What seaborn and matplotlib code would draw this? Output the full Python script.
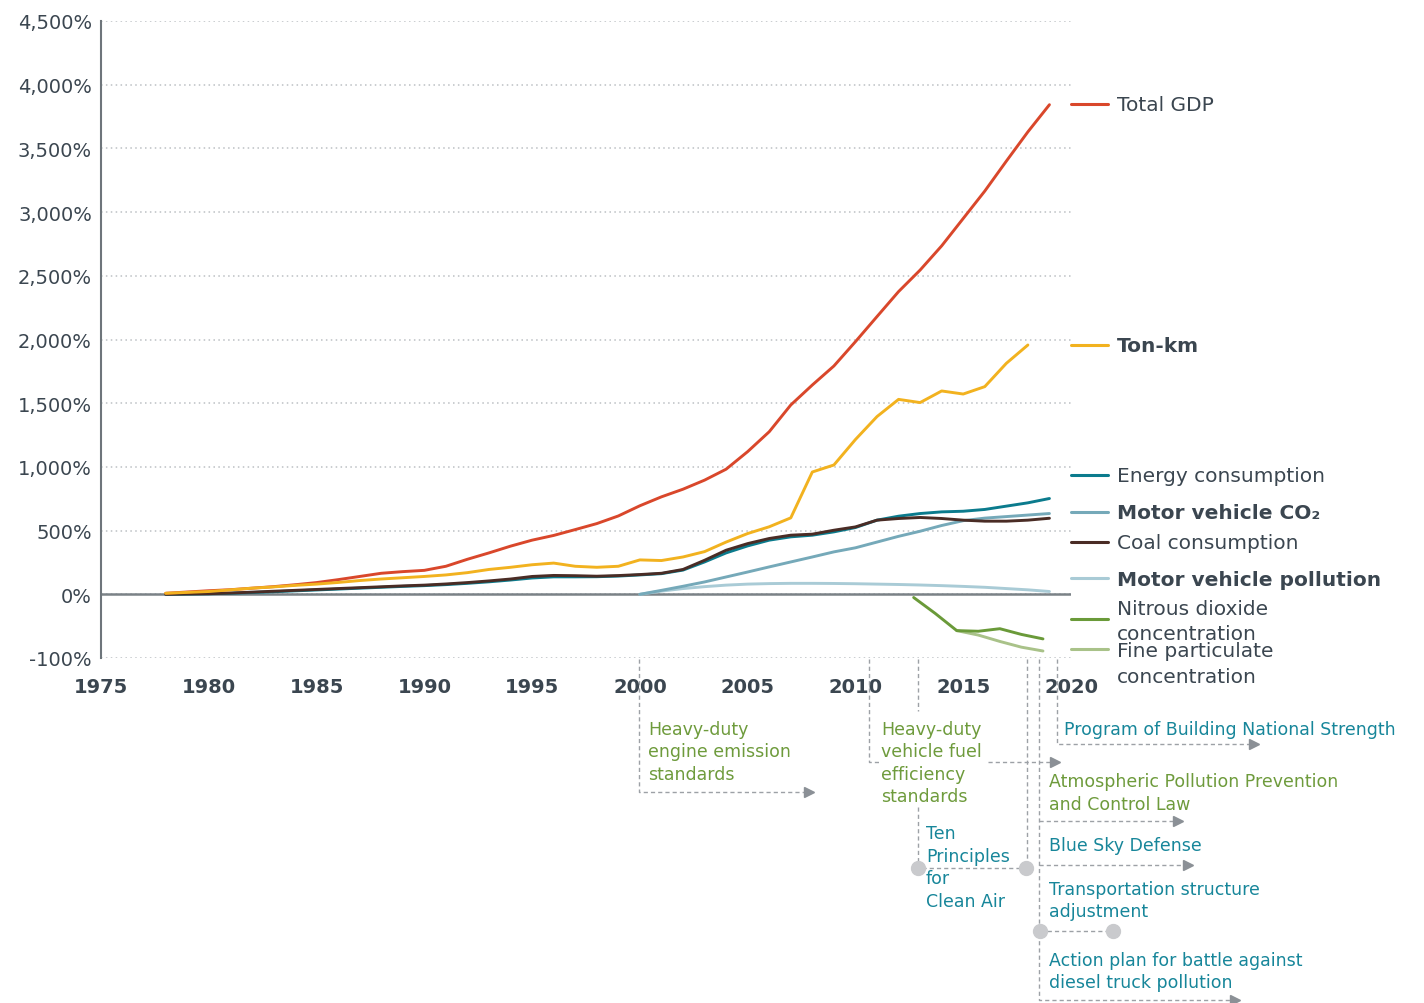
import numpy as np
import pandas as pd
import seaborn as sns
import matplotlib
matplotlib.use("Agg")
from matplotlib import pyplot as plt
from matplotlib.lines import Line2D

W, H = 1424, 1004

# growth since 1978, percent
years = list(range(1978, 2020))
gdp = [8, 18, 28, 36, 48, 60, 75, 92, 115, 140,
       165, 178, 188, 220, 275, 325, 378, 425, 462, 508,
       555, 615, 695, 765, 825, 896, 982, 1120, 1276, 1486,
       1643, 1792, 1983, 2180, 2376, 2545, 2735, 2950, 3165, 3400,
       3630, 3843]
energy = [0, 2, 4, 8, 14, 20, 27, 34, 41, 48,
          55, 62, 68, 76, 86, 98, 112, 128, 137, 137,
          138, 143, 152, 162, 190, 254, 325, 380, 425, 451,
          464, 490, 524, 582, 613, 634, 647, 652, 666, 692,
          718, 752]
coal = [0, 3, 5, 10, 17, 24, 31, 38, 45, 52,
        59, 66, 72, 81, 92, 105, 120, 140, 148, 146,
        142, 147, 155, 165, 195, 267, 346, 398, 438, 464,
        472, 503, 529, 582, 595, 603, 595, 582, 574, 574,
        582, 597]

ton_km_years = list(range(1978, 2019))
ton_km = [8, 15, 22, 35, 48, 58, 70, 80, 93, 108,
          120, 130, 140, 152, 170, 195, 212, 232, 245, 220,
          212, 220, 270, 265, 293, 335, 410, 477, 530, 600,
          960, 1015, 1215, 1395, 1530, 1505, 1596, 1572, 1630, 1813,
          1957]

mv_years = list(range(2000, 2020))
mv_co2 = [0, 31, 63, 97, 136, 175, 215, 254, 293, 333,
          365, 410, 455, 495, 540, 578, 598, 610, 622, 634]
mv_pollution = [0, 25, 45, 60, 72, 80, 84, 86, 86, 85,
                83, 80, 77, 73, 68, 62, 55, 45, 35, 22]

no2_years = [2012.7, 2013.7, 2014.7, 2015.7, 2016.7, 2017.7, 2018.7]
no2 = [-5, -30, -57, -58, -54, -63, -70]
pm_years = [2014.7, 2015.7, 2016.7, 2017.7, 2018.7]
pm = [-57, -64, -74, -83, -89]

palette = {
    "Motor vehicle pollution": "#a9cbd6",
    "Motor vehicle CO₂": "#75a9b9",
    "Energy consumption": "#0b7b8d",
    "Coal consumption": "#4a2c25",
    "Total GDP": "#d9472b",
    "Ton-km": "#f2b21f",
    "Fine particulate concentration": "#a9c289",
    "Nitrous dioxide concentration": "#6a9a39",
}
order = list(palette)

parts = [
    ("Total GDP", years, gdp),
    ("Ton-km", ton_km_years, ton_km),
    ("Energy consumption", years, energy),
    ("Coal consumption", years, coal),
    ("Motor vehicle CO₂", mv_years, mv_co2),
    ("Motor vehicle pollution", mv_years, mv_pollution),
    ("Nitrous dioxide concentration", no2_years, no2),
    ("Fine particulate concentration", pm_years, pm),
]
df = pd.concat([pd.DataFrame({"year": x, "value": y, "series": n}) for n, x, y in parts])

sns.set_style("white")
plt.rcParams["font.family"] = ["DejaVu Sans"]

TXT = "#3b4650"
GREEN = "#6e9b3c"
TEAL = "#17869a"
DASH = "#9da1a6"

fig = plt.figure(figsize=(W / 100, H / 100), dpi=100)
ax = fig.add_axes([101 / W, 1 - 659 / H, 970 / W, 637 / H])

sns.lineplot(data=df, x="year", y="value", hue="series", hue_order=order,
             palette=palette, estimator=None, linewidth=2.1, legend=False,
             ax=ax, zorder=3)


# negative part of the axis is stretched 5x
def fwd(v):
    v = np.asarray(v, dtype=float)
    return np.where(v < 0, v * 5, v)


def inv(v):
    v = np.asarray(v, dtype=float)
    return np.where(v < 0, v / 5, v)


ax.set_yscale("function", functions=(fwd, inv))
ax.set_xlim(1975, 2020)
ax.set_ylim(-100, 4500)

yticks = [-100] + list(range(0, 4501, 500))
ax.set_yticks(yticks)
ax.set_yticklabels([f"{t:,}%" for t in yticks])
xticks = list(range(1975, 2021, 5))
ax.set_xticks(xticks)
ax.set_xticklabels([str(t) for t in xticks], fontweight="bold")
ax.set_xlabel("")
ax.set_ylabel("")

ax.grid(False)
ax.grid(axis="y", color="#bcc0c4", linestyle=(0, (1, 2.2)), linewidth=1.1)
ax.axhline(0, color="#7b8287", linewidth=1.8, zorder=2)
ax.tick_params(axis="y", length=0, pad=6.5, labelsize=14, labelcolor=TXT)
ax.tick_params(axis="x", length=0, pad=13.5, labelsize=14, labelcolor=TXT)
for s in ["top", "right", "bottom"]:
    ax.spines[s].set_visible(False)
ax.spines["left"].set_color("#6e757b")
ax.spines["left"].set_linewidth(1.5)


def fx(x):
    return x / W


def fy(y):
    return 1 - y / H


# right-hand legend: (series, marker y, text lines, first baseline y, weight)
legend_rows = [
    ("Total GDP", 105, ["Total GDP"], 110.7, "normal"),
    ("Ton-km", 346, ["Ton-km"], 351.7, "bold"),
    ("Energy consumption", 476, ["Energy consumption"], 482.3, "normal"),
    ("Motor vehicle CO₂", 513, ["Motor vehicle CO₂"], 519.3, "bold"),
    ("Coal consumption", 543, ["Coal consumption"], 549.3, "normal"),
    ("Motor vehicle pollution", 579, ["Motor vehicle pollution"], 586, "bold"),
    ("Nitrous dioxide concentration", 620, ["Nitrous dioxide", "concentration"], 615, "normal"),
    ("Fine particulate concentration", 650, ["Fine particulate", "concentration"], 657.3, "normal"),
]
for key, my, lines, by, wt in legend_rows:
    fig.add_artist(Line2D([fx(1071), fx(1108)], [fy(my), fy(my)],
                          color=palette[key], linewidth=2.2))
    for i, line in enumerate(lines):
        fig.text(fx(1117), fy(by + i * 25.5), line, fontsize=14.5,
                 fontweight=wt, color=TXT, va="baseline", ha="left")

# policy timeline below the axis
dash_paths = [
    [(638.5, 660), (638.5, 793), (805, 793)],
    [(869, 660), (869, 763), (879, 763)],
    [(988, 763), (1050, 763)],
    [(918, 660), (918, 712)],
    [(918, 808), (918, 869), (1026, 869)],
    [(1026.5, 660), (1026.5, 869)],
    [(1039, 660), (1039, 1001), (1231, 1001)],
    [(1039, 822), (1173, 822)],
    [(1039, 866), (1183, 866)],
    [(1040, 932), (1113, 932)],
    [(1057, 660), (1057, 745), (1249, 745)],
]
for path in dash_paths:
    xs = [fx(p[0]) for p in path]
    ys = [fy(p[1]) for p in path]
    fig.add_artist(Line2D(xs, ys, color=DASH, linewidth=1.0,
                          linestyle=(0, (3, 2.2))))

for x, y in [(809, 793), (1055, 763), (1178, 822), (1188, 866), (1235, 1001), (1254, 745)]:
    fig.add_artist(Line2D([fx(x)], [fy(y)], marker=">", markersize=7,
                          color="#8b9096", linewidth=0))
for x, y in [(918, 869), (1026, 869), (1040, 932), (1113, 932)]:
    fig.add_artist(Line2D([fx(x)], [fy(y)], marker="o", markersize=10,
                          color="#c9cacd", linewidth=0))

policies = [
    (648, 735, ["Heavy-duty", "engine emission", "standards"], GREEN),
    (881, 735, ["Heavy-duty", "vehicle fuel", "efficiency", "standards"], GREEN),
    (926, 839.3, ["Ten", "Principles", "for", "Clean Air"], TEAL),
    (1064, 735, ["Program of Building National Strength"], TEAL),
    (1049, 787.3, ["Atmospheric Pollution Prevention", "and Control Law"], GREEN),
    (1049, 850.7, ["Blue Sky Defense"], TEAL),
    (1049, 895, ["Transportation structure", "adjustment"], TEAL),
    (1049, 965.7, ["Action plan for battle against", "diesel truck pollution"], TEAL),
]
for x, by, lines, col in policies:
    for i, line in enumerate(lines):
        fig.text(fx(x), fy(by + i * 22.5), line, fontsize=12.5, color=col,
                 va="baseline", ha="left")

fig.savefig("out.png", dpi=100)
